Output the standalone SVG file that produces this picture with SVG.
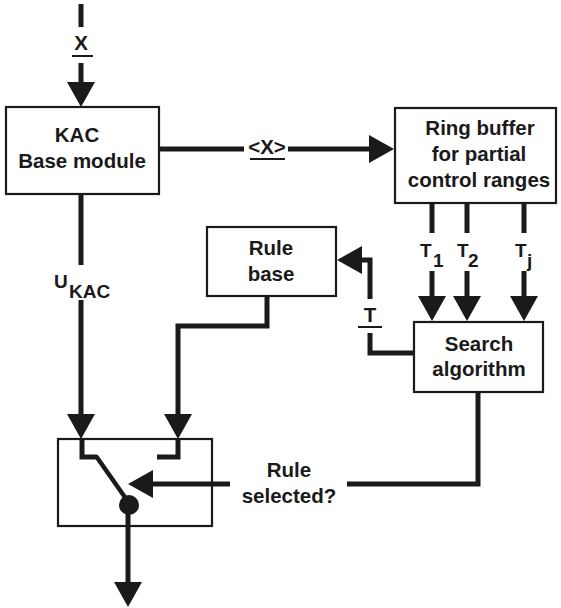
<svg xmlns="http://www.w3.org/2000/svg" width="561" height="608" viewBox="0 0 561 608">
<style>
.box{fill:#fff;stroke:#1a1a1a;stroke-width:2.2}
.t{font-family:"Liberation Sans",Arial,sans-serif;font-weight:bold;font-size:20.5px;fill:#1a1a1a;text-anchor:middle}
.s{font-size:19px;text-anchor:start}
.c{fill:none;stroke:#1a1a1a;stroke-width:5;stroke-linejoin:miter}
.ul{stroke:#1a1a1a;stroke-width:2}
</style>
<defs>
<marker id="ah" viewBox="0 0 25 28" refX="0" refY="14" markerWidth="25" markerHeight="28" markerUnits="userSpaceOnUse" orient="auto">
<path d="M0,0 L25,14 L0,28 Z" fill="#1a1a1a"/>
</marker>
</defs>
<rect width="561" height="608" fill="#fff"/>
<g id="kac">
<rect class="box" x="6" y="107" width="153" height="87"/>
<text class="t" x="77" y="142">KAC</text>
<text class="t" x="82" y="168">Base module</text>
</g>
<g id="ringbuffer">
<rect class="box" x="395" y="108" width="161" height="95"/>
<text class="t" x="480" y="135">Ring buffer</text>
<text class="t" x="479" y="161">for partial</text>
<text class="t" x="479" y="187">control ranges</text>
</g>
<g id="rulebase">
<rect class="box" x="207" y="227" width="129" height="69"/>
<text class="t" x="271" y="255">Rule</text>
<text class="t" x="271" y="281">base</text>
</g>
<g id="search">
<rect class="box" x="414" y="322" width="129" height="70"/>
<text class="t" x="479" y="351">Search</text>
<text class="t" x="479" y="376">algorithm</text>
</g>
<g id="switch">
<rect class="box" x="58" y="439" width="154" height="87"/>
<path class="c" d="M82,439 V457 H97"/>
<path class="c" d="M178,439 V457 H157"/>
<path d="M96,456 L129,503" stroke="#1a1a1a" stroke-width="4.5" fill="none"/>
<circle cx="129" cy="505" r="10" fill="#1a1a1a"/>
</g>
<g id="connectors">
<path class="c" d="M81,4 V27"/>
<path class="c" d="M81,63 V82" marker-end="url(#ah)"/>
<path class="c" d="M159,149 H244"/>
<path class="c" d="M288,149 H369" marker-end="url(#ah)"/>
<path class="c" d="M432,203 V233"/>
<path class="c" d="M467,203 V233"/>
<path class="c" d="M524,203 V233"/>
<path class="c" d="M432,271 V296" marker-end="url(#ah)"/>
<path class="c" d="M467,271 V296" marker-end="url(#ah)"/>
<path class="c" d="M524,271 V296" marker-end="url(#ah)"/>
<path class="c" d="M414,353 H370 V333"/>
<path class="c" d="M370,299 V260 H362" marker-end="url(#ah)"/>
<path class="c" d="M81,194 V265"/>
<path class="c" d="M81,300 V414" marker-end="url(#ah)"/>
<path class="c" d="M267,296 V326 H178 V414" marker-end="url(#ah)"/>
<path class="c" d="M478,392 V484 H347"/>
<path class="c" d="M230,484 H153" marker-end="url(#ah)"/>
<path class="c" d="M128,505 V582" marker-end="url(#ah)"/>
</g>
<g id="labels">
<text class="t" x="81" y="50">X</text>
<line class="ul" x1="72" y1="56" x2="93" y2="56"/>
<text class="t" x="267" y="154">&lt;X&gt;</text>
<line class="ul" x1="250" y1="159" x2="285" y2="159"/>
<text class="t s" x="54" y="288">U</text>
<text class="t s" x="69" y="298">KAC</text>
<text class="t s" x="420" y="257">T</text>
<text class="t s" x="433" y="267">1</text>
<text class="t s" x="457" y="257">T</text>
<text class="t s" x="468" y="267">2</text>
<text class="t s" x="515" y="257">T</text>
<text class="t s" x="527" y="267">j</text>
<text class="t" x="370" y="322">T</text>
<line class="ul" x1="358" y1="327" x2="382" y2="327"/>
<text class="t" x="289" y="477">Rule</text>
<text class="t" x="289" y="503">selected?</text>
</g>
</svg>
